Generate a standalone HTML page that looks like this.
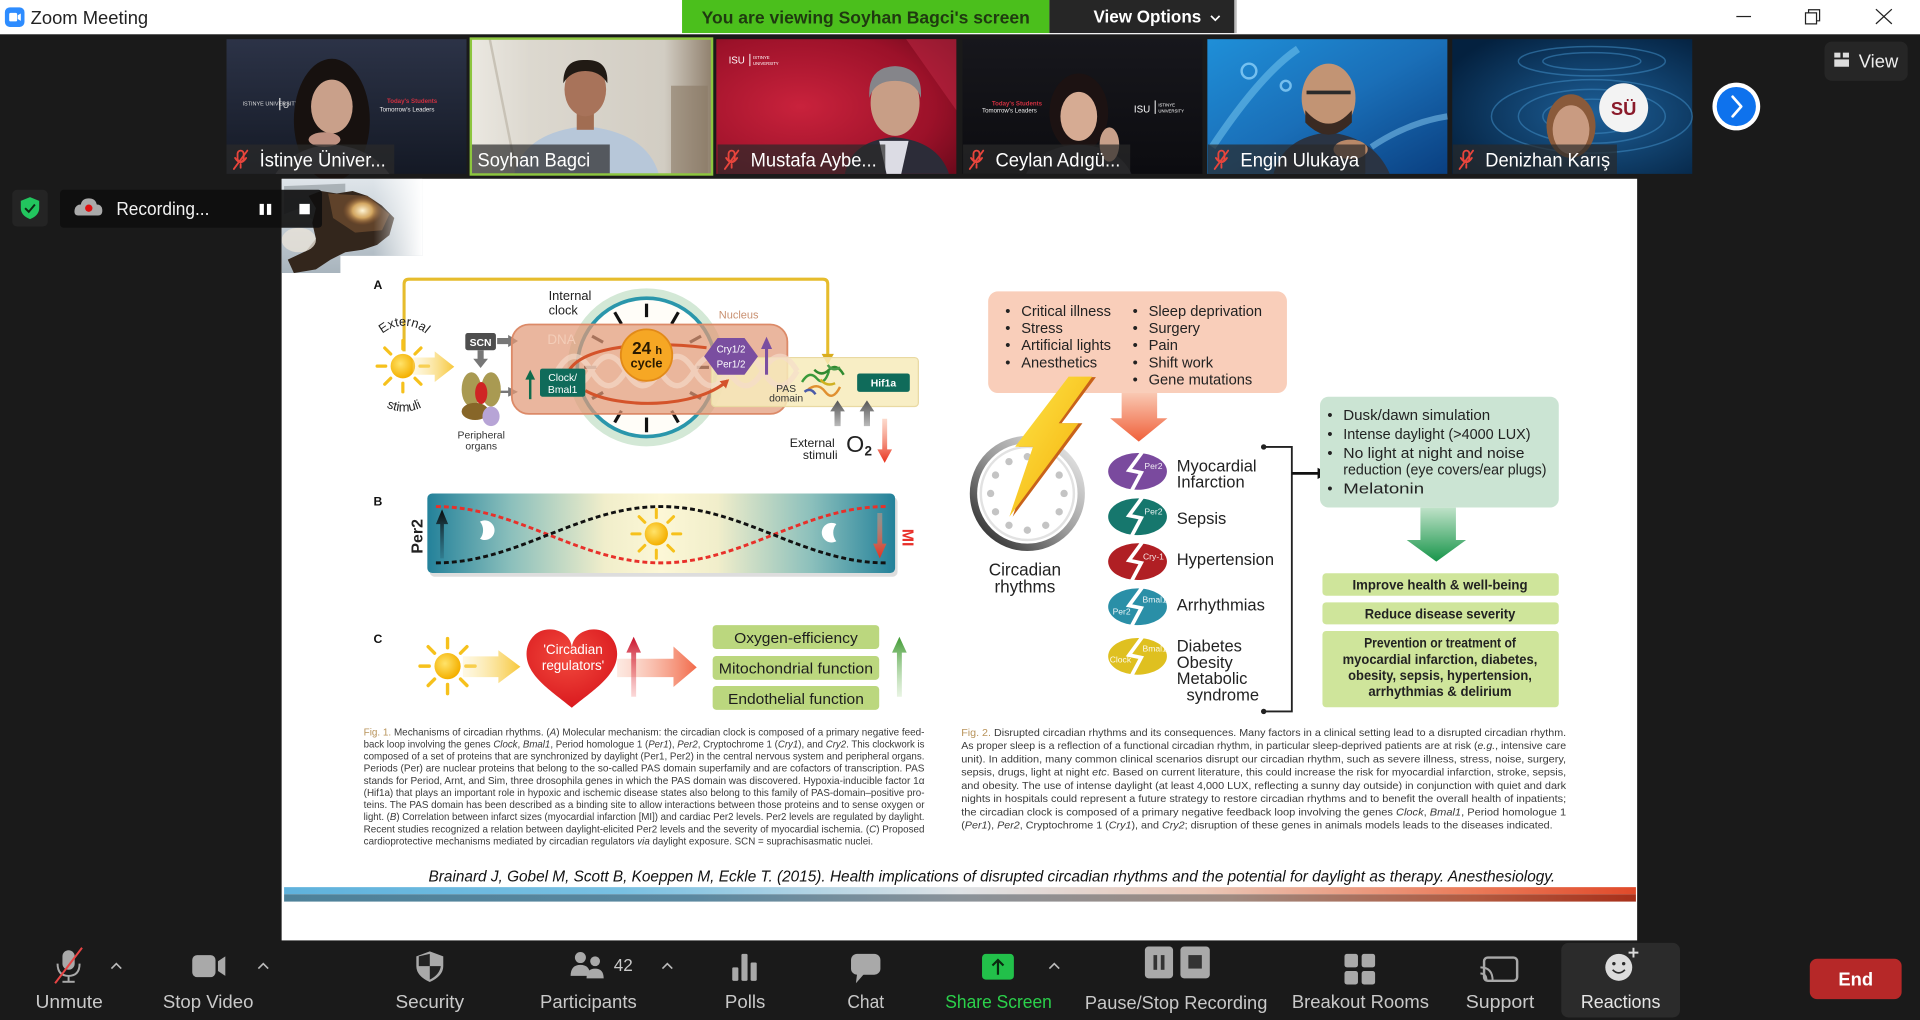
<!DOCTYPE html>
<html><head><meta charset="utf-8">
<style>
html,body{margin:0;padding:0;background:#1a1a1a;width:1920px;height:1020px;overflow:hidden}
svg{display:block}
text{font-family:"Liberation Sans","DejaVu Sans",sans-serif}
</style></head><body>
<svg width="1920" height="1020" viewBox="0 0 1568 833" xmlns="http://www.w3.org/2000/svg">
<defs>
<radialGradient id="sunG" cx="0.4" cy="0.4" r="0.6"><stop offset="0" stop-color="#ffe36a"/><stop offset="1" stop-color="#f4b000"/></radialGradient>
<g id="sun"><circle r="10" fill="url(#sunG)"/><g stroke="#f6c11c" stroke-width="2.6" stroke-linecap="round"><line x1="14" y1="0" x2="21" y2="0"/><line x1="-14" y1="0" x2="-21" y2="0"/><line x1="0" y1="14" x2="0" y2="21"/><line x1="0" y1="-14" x2="0" y2="-21"/><line x1="9.9" y1="9.9" x2="14.8" y2="14.8"/><line x1="-9.9" y1="9.9" x2="-14.8" y2="14.8"/><line x1="9.9" y1="-9.9" x2="14.8" y2="-14.8"/><line x1="-9.9" y1="-9.9" x2="-14.8" y2="-14.8"/></g></g>
<linearGradient id="t1" x1="0" y1="0" x2="0" y2="1"><stop offset="0" stop-color="#2c3347"/><stop offset="1" stop-color="#141925"/></linearGradient>
<linearGradient id="t2" x1="0" y1="0" x2="1" y2="0"><stop offset="0" stop-color="#ebe8e1"/><stop offset="0.25" stop-color="#dcd8cf"/><stop offset="0.8" stop-color="#d2cdc3"/><stop offset="1" stop-color="#8f7f6c"/></linearGradient>
<radialGradient id="t3" cx="0.35" cy="0.5" r="0.8"><stop offset="0" stop-color="#c9223c"/><stop offset="0.7" stop-color="#9b1129"/><stop offset="1" stop-color="#6e0a1c"/></radialGradient>
<linearGradient id="t4" x1="0" y1="0" x2="0" y2="1"><stop offset="0" stop-color="#17171c"/><stop offset="1" stop-color="#0c0c10"/></linearGradient>
<linearGradient id="t5" x1="0" y1="0" x2="1" y2="1"><stop offset="0" stop-color="#1f8fd8"/><stop offset="0.5" stop-color="#1a6fb8"/><stop offset="1" stop-color="#0a3f80"/></linearGradient>
<radialGradient id="t6" cx="0.6" cy="0.55" r="0.7"><stop offset="0" stop-color="#1d5f98"/><stop offset="1" stop-color="#04213f"/></radialGradient>
<linearGradient id="sky" x1="0" y1="0" x2="0" y2="1"><stop offset="0" stop-color="#dfe5ea"/><stop offset="1" stop-color="#a8b4bd"/></linearGradient>
<linearGradient id="fadeR" x1="0" y1="0" x2="1" y2="0"><stop offset="0" stop-color="#fff" stop-opacity="0"/><stop offset="1" stop-color="#fff" stop-opacity="1"/></linearGradient>
<radialGradient id="glow" cx="0.5" cy="0.5" r="0.5"><stop offset="0" stop-color="#fff6d8"/><stop offset="0.5" stop-color="#f0c070" stop-opacity="0.8"/><stop offset="1" stop-color="#a06030" stop-opacity="0"/></radialGradient>
<linearGradient id="yArr" x1="0" y1="0" x2="1" y2="0"><stop offset="0" stop-color="#fbe9a8" stop-opacity="0.3"/><stop offset="1" stop-color="#f7c73a"/></linearGradient>
<linearGradient id="sArr" x1="0" y1="0" x2="1" y2="0"><stop offset="0" stop-color="#f8b8a0" stop-opacity="0.3"/><stop offset="1" stop-color="#f26a4a"/></linearGradient>
<linearGradient id="grayUp" x1="0" y1="1" x2="0" y2="0"><stop offset="0" stop-color="#bbb"/><stop offset="1" stop-color="#555"/></linearGradient>
<linearGradient id="redDown" x1="0" y1="0" x2="0" y2="1"><stop offset="0" stop-color="#f8a080" stop-opacity="0.4"/><stop offset="1" stop-color="#e8301c"/></linearGradient>
<linearGradient id="blackUp" x1="0" y1="1" x2="0" y2="0"><stop offset="0" stop-color="#1a3a4a" stop-opacity="0.2"/><stop offset="1" stop-color="#0a0a0a"/></linearGradient>
<linearGradient id="redUp" x1="0" y1="1" x2="0" y2="0"><stop offset="0" stop-color="#f08080" stop-opacity="0.3"/><stop offset="1" stop-color="#c8102a"/></linearGradient>
<linearGradient id="greenUp" x1="0" y1="1" x2="0" y2="0"><stop offset="0" stop-color="#b0d8a0" stop-opacity="0.3"/><stop offset="1" stop-color="#3f9a32"/></linearGradient>
<linearGradient id="bGrad" x1="0" y1="0" x2="1" y2="0"><stop offset="0" stop-color="#23819a"/><stop offset="0.18" stop-color="#8cc0bc"/><stop offset="0.38" stop-color="#f1eecb"/><stop offset="0.5" stop-color="#fcf7d6"/><stop offset="0.62" stop-color="#f1eecb"/><stop offset="0.82" stop-color="#8cc0bc"/><stop offset="1" stop-color="#23819a"/></linearGradient>
<radialGradient id="heartG" cx="0.45" cy="0.35" r="0.7"><stop offset="0" stop-color="#f24a3e"/><stop offset="1" stop-color="#d8161c"/></radialGradient>
<linearGradient id="boltG" x1="0" y1="0" x2="1" y2="1"><stop offset="0" stop-color="#fde74a"/><stop offset="0.6" stop-color="#f8c320"/><stop offset="1" stop-color="#f29a1a"/></linearGradient>
<linearGradient id="ringG" x1="1" y1="0" x2="0" y2="1"><stop offset="0" stop-color="#f2f2f2"/><stop offset="0.5" stop-color="#9a9a9a"/><stop offset="1" stop-color="#1e1e1e"/></linearGradient>
<linearGradient id="salDown" x1="0" y1="0" x2="0" y2="1"><stop offset="0" stop-color="#f9c8b2"/><stop offset="1" stop-color="#f0603a"/></linearGradient>
<linearGradient id="grnDown" x1="0" y1="0" x2="0" y2="1"><stop offset="0" stop-color="#bfe2c8"/><stop offset="1" stop-color="#17954a"/></linearGradient>
<linearGradient id="barTop" x1="0" y1="0" x2="1" y2="0"><stop offset="0" stop-color="#5fb2dc"/><stop offset="0.25" stop-color="#78c0e2"/><stop offset="0.5" stop-color="#dfe3e6"/><stop offset="0.68" stop-color="#eac6b6"/><stop offset="0.88" stop-color="#ea7a58"/><stop offset="1" stop-color="#e04a2a"/></linearGradient>
<linearGradient id="barBot" x1="0" y1="0" x2="1" y2="0"><stop offset="0" stop-color="#4d8199"/><stop offset="0.3" stop-color="#5a88a0"/><stop offset="0.5" stop-color="#8a9299"/><stop offset="0.7" stop-color="#a08a80"/><stop offset="0.88" stop-color="#b25a40"/><stop offset="1" stop-color="#a8301a"/></linearGradient>
<clipPath id="imgClip"><path d="M230,146 H345 V209 H278 V223 H230 Z"/></clipPath>
<marker id="arrOr" markerWidth="8" markerHeight="8" refX="5" refY="4" orient="auto" markerUnits="userSpaceOnUse"><path d="M0,0 L7,4 L0,8 Z" fill="#d4532a"/></marker>
</defs>

<!-- background -->
<rect x="0" y="0" width="1568" height="833" fill="#1a1a1a"/>
<!-- title bar -->
<rect x="0" y="0" width="1568" height="28" fill="#ffffff"/>
<rect x="4" y="6" width="16" height="16" rx="4" fill="#2d8cff"/>
<rect x="7.5" y="10.5" width="6.5" height="7" rx="1.2" fill="#fff"/>
<path d="M14.5,12.5 L17,11 V17 L14.5,15.5 Z" fill="#fff"/>
<text x="25" y="19.5" font-size="15" fill="#222" textLength="96" lengthAdjust="spacingAndGlyphs">Zoom Meeting</text>
<rect x="557" y="0" width="300" height="27" fill="#4bbf1c"/>
<text x="573" y="19" font-size="14.5" font-weight="bold" fill="#1f3a10" textLength="268" lengthAdjust="spacingAndGlyphs">You are viewing Soyhan Bagci's screen</text>
<rect x="857" y="0" width="151" height="27" fill="#262626"/>
<rect x="1008" y="0" width="2" height="27" fill="#555" opacity="0.4"/>
<text x="893" y="18.5" font-size="14.5" font-weight="bold" fill="#fff" textLength="88" lengthAdjust="spacingAndGlyphs">View Options</text>
<path d="M989,13 L992.5,16.5 L996,13" stroke="#fff" stroke-width="1.4" fill="none"/>
<line x1="1418" y1="13.5" x2="1430" y2="13.5" stroke="#222" stroke-width="1"/>
<rect x="1474.5" y="10.5" width="9" height="9" fill="none" stroke="#222" stroke-width="1"/>
<path d="M1477,10.5 V8 H1486 V17 H1483.5" fill="none" stroke="#222" stroke-width="1"/>
<path d="M1532,7.5 L1545,19.5 M1545,7.5 L1532,19.5" stroke="#222" stroke-width="1"/>

<!-- thumbnails -->
<g>
<rect x="185" y="32" width="196" height="110" fill="url(#t1)"/>
<text x="198" y="86" font-size="4.5" fill="#ddd">ISTINYE UNIVERSITY</text>
<rect x="228" y="80" width="1" height="10" fill="#ddd"/>
<text x="231" y="88" font-size="7" fill="#ddd">U</text>
<text x="316" y="84" font-size="5" fill="#d03040" font-weight="bold">Today's Students</text>
<text x="310" y="91" font-size="5" fill="#eee">Tomorrow's Leaders</text>
<ellipse cx="271" cy="98" rx="31" ry="50" fill="#17110f"/>
<path d="M225,142 Q240,120 271,118 Q302,120 318,142 Z" fill="#4a4a52"/>
<ellipse cx="271" cy="87" rx="17" ry="22" fill="#c9a08a"/>
<ellipse cx="265" cy="114" rx="13" ry="6" fill="#c09282"/>
<rect x="185" y="118" width="137" height="24" fill="#2a2a2a" opacity="0.75"/>
</g>
<g>
<rect x="384" y="32" width="198" height="110" fill="url(#t2)"/>
<line x1="400" y1="32" x2="422" y2="142" stroke="#c8c2b6" stroke-width="2"/>
<rect x="548" y="70" width="30" height="72" fill="#8a7a66" opacity="0.6"/>
<path d="M420,142 Q428,108 478,103 Q528,108 538,142 Z" fill="#b7c7d9"/>
<rect x="471" y="88" width="14" height="18" fill="#a16d52"/>
<ellipse cx="478" cy="73" rx="17" ry="22" fill="#a8735a"/>
<path d="M460,68 Q460,48 478,49 Q497,48 496,68 Q490,58 478,58 Q466,58 460,68 Z" fill="#211a14"/>
<rect x="385" y="118" width="113" height="24" fill="#2a2a2a" opacity="0.7"/>
<rect x="384.5" y="31.5" width="197" height="111" fill="none" stroke="#8dc63f" stroke-width="2"/>
</g>
<g>
<rect x="585" y="32" width="196" height="110" fill="url(#t3)"/>
<path d="M740,32 L781,32 L781,90 Z" fill="#c02a45" opacity="0.5"/>
<text x="595" y="52" font-size="8" fill="#fff" font-family="Liberation Serif,serif">ISU</text>
<rect x="612" y="44" width="0.8" height="10" fill="#fff"/>
<text x="615" y="48" font-size="3.5" fill="#fff">ISTINYE</text>
<text x="615" y="53" font-size="3.5" fill="#fff">UNIVERSITY</text>
<path d="M690,142 Q695,115 730,112 Q766,115 775,142 Z" fill="#2c2c38"/>
<path d="M718,115 L742,115 L736,142 L724,142 Z" fill="#dcdce4"/>
<ellipse cx="731" cy="84" rx="20" ry="27" fill="#c89e86"/>
<path d="M710,80 Q708,55 731,54 Q754,55 752,80 Q748,66 731,66 Q714,66 710,80 Z" fill="#85858a"/>
<rect x="586" y="118" width="137" height="24" fill="#2a2a2a" opacity="0.7"/>
</g>
<g>
<rect x="786" y="32" width="196" height="110" fill="url(#t4)"/>
<text x="810" y="86" font-size="5" fill="#d03040" font-weight="bold">Today's Students</text>
<text x="802" y="92" font-size="5" fill="#eee">Tomorrow's Leaders</text>
<text x="926" y="92" font-size="8" fill="#fff" font-family="Liberation Serif,serif">ISU</text>
<rect x="943" y="82" width="0.8" height="11" fill="#fff"/>
<text x="946" y="87" font-size="3.5" fill="#fff">ISTINYE</text>
<text x="946" y="92" font-size="3.5" fill="#fff">UNIVERSITY</text>
<ellipse cx="881" cy="92" rx="24" ry="32" fill="#1c1212"/>
<path d="M838,142 Q848,120 881,118 Q914,120 924,142 Z" fill="#23232a"/>
<ellipse cx="881" cy="95" rx="15" ry="20" fill="#d6ab93"/>
<ellipse cx="906" cy="118" rx="8" ry="14" fill="#c8a08a"/>
<rect x="786.5" y="118" width="136.5" height="24" fill="#2a2a2a" opacity="0.7"/>
</g>
<g>
<rect x="986" y="32" width="196" height="110" fill="url(#t5)"/>
<path d="M990,120 Q1030,60 1060,40" stroke="#7ccbf2" stroke-width="6" fill="none" opacity="0.5"/>
<circle cx="1020" cy="58" r="6" fill="none" stroke="#9bdcff" stroke-width="2" opacity="0.7"/>
<circle cx="1050" cy="70" r="4" fill="none" stroke="#9bdcff" stroke-width="2" opacity="0.7"/>
<path d="M1120,120 Q1150,100 1182,95" stroke="#8bd0f5" stroke-width="5" fill="none" opacity="0.5"/>
<path d="M1040,142 Q1048,112 1085,108 Q1122,112 1135,142 Z" fill="#2a3444"/>
<ellipse cx="1085" cy="80" rx="22" ry="28" fill="#c29474"/>
<path d="M1066,90 Q1085,112 1104,90 L1104,100 Q1085,120 1066,100 Z" fill="#3a2a22"/>
<rect x="1067" y="74" width="36" height="3" fill="#2a2a2a"/>
<ellipse cx="1103" cy="122" rx="14" ry="8" fill="#b88868"/>
<rect x="986.5" y="118" width="128.5" height="24" fill="#2a2a2a" opacity="0.7"/>
</g>
<g>
<rect x="1186" y="32" width="196" height="110" fill="url(#t6)"/>
<g fill="none" stroke="#3f8cc4" stroke-width="1.2" opacity="0.55">
<ellipse cx="1300" cy="95" rx="40" ry="14"/><ellipse cx="1300" cy="95" rx="60" ry="22"/><ellipse cx="1300" cy="95" rx="82" ry="30"/><ellipse cx="1300" cy="50" rx="60" ry="12"/><ellipse cx="1300" cy="50" rx="40" ry="7"/>
</g>
<circle cx="1326" cy="88" r="20" fill="#f3f3f3"/>
<text x="1326" y="94" font-size="15" fill="#8a1a2a" text-anchor="middle" font-family="Liberation Serif,serif" font-weight="bold">SÜ</text>
<ellipse cx="1283" cy="103" rx="20" ry="26" fill="#8a5a3a"/>
<ellipse cx="1283" cy="106" rx="15" ry="20" fill="#c99b81"/>
<rect x="1186.5" y="118" width="134" height="24" fill="#2a2a2a" opacity="0.7"/>
</g>
<g stroke="#e8453c" stroke-width="1.5" fill="none" stroke-linecap="round">
<g transform="translate(191,123)"><rect x="3" y="0" width="5" height="9" rx="2.5"/><path d="M1,6 Q5.5,13 10,6 M5.5,11 V14"/><line x1="0" y1="15" x2="11" y2="0"/></g>
<g transform="translate(592,123)"><rect x="3" y="0" width="5" height="9" rx="2.5"/><path d="M1,6 Q5.5,13 10,6 M5.5,11 V14"/><line x1="0" y1="15" x2="11" y2="0"/></g>
<g transform="translate(792,123)"><rect x="3" y="0" width="5" height="9" rx="2.5"/><path d="M1,6 Q5.5,13 10,6 M5.5,11 V14"/><line x1="0" y1="15" x2="11" y2="0"/></g>
<g transform="translate(992,123)"><rect x="3" y="0" width="5" height="9" rx="2.5"/><path d="M1,6 Q5.5,13 10,6 M5.5,11 V14"/><line x1="0" y1="15" x2="11" y2="0"/></g>
<g transform="translate(1192,123)"><rect x="3" y="0" width="5" height="9" rx="2.5"/><path d="M1,6 Q5.5,13 10,6 M5.5,11 V14"/><line x1="0" y1="15" x2="11" y2="0"/></g>
</g>
<g font-size="15.5" fill="#fff">
<text x="212" y="136" textLength="103" lengthAdjust="spacingAndGlyphs">İstinye Üniver...</text>
<text x="390" y="136" textLength="92" lengthAdjust="spacingAndGlyphs">Soyhan Bagci</text>
<text x="613" y="136" textLength="103" lengthAdjust="spacingAndGlyphs">Mustafa Aybe...</text>
<text x="813" y="136" textLength="102" lengthAdjust="spacingAndGlyphs">Ceylan Adıgü...</text>
<text x="1013" y="136" textLength="97" lengthAdjust="spacingAndGlyphs">Engin Ulukaya</text>
<text x="1213" y="136" textLength="102" lengthAdjust="spacingAndGlyphs">Denizhan Karış</text>
</g>
<circle cx="1418" cy="87" r="19.5" fill="#fff"/>
<circle cx="1418" cy="87" r="16" fill="#0e72ed"/>
<path d="M1415,79 L1422,87 L1415,95" stroke="#fff" stroke-width="2.2" fill="none" stroke-linecap="round" stroke-linejoin="round"/>
<rect x="1490" y="34" width="68" height="32" rx="6" fill="#262626"/>
<rect x="1498" y="43" width="5" height="4" fill="#ddd"/><rect x="1505" y="43" width="5" height="4" fill="#ddd"/>
<rect x="1498" y="48.5" width="12" height="6" fill="#ddd"/>
<text x="1518" y="55" font-size="15" fill="#eee">View</text>

<!-- SLIDE -->
<rect x="230" y="146" width="1107" height="622" fill="#ffffff"/>
<g clip-path="url(#imgClip)">
<rect x="230" y="146" width="115" height="77" fill="url(#sky)"/>
<path d="M232,152 L282,150 L282,182 L262,186 L245,170 L232,175 Z" fill="#8a9298" opacity="0.6"/>
<path d="M252,160 L262,156 L275,158 L288,156 L300,160 L312,168 L322,178 L318,192 L308,200 L296,204 L282,206 L270,212 L258,220 L240,223 L235,212 L250,205 L258,195 L255,182 L258,170 Z" fill="#33261c"/>
<path d="M268,158 L300,160 L318,175 L312,188 L290,190 L272,178 Z" fill="#6a4a2e" opacity="0.8"/>
<ellipse cx="296" cy="172" rx="16" ry="12" fill="url(#glow)"/>
<ellipse cx="244" cy="196" rx="14" ry="10" fill="#e8e2d8" opacity="0.8"/>
<rect x="305" y="146" width="40" height="77" fill="url(#fadeR)"/>
</g>

<!-- Panel A -->
<text x="305" y="236" font-size="10" font-weight="bold" fill="#111">A</text>
<path d="M330,287 V232 Q330,228 334,228 H672 Q676,228 676,232 V292" fill="none" stroke="#e6bc2c" stroke-width="2.5"/>
<path d="M671,289 L676,298 L681,289 Z" fill="#d9ad1e"/>
<use href="#sun" transform="translate(329,299)"/>
<path id="arcExt" d="M303,293 A27,27 0 0 1 357,293" fill="none"/>
<text font-size="10.5" fill="#222"><textPath href="#arcExt" startOffset="50%" text-anchor="middle">External</textPath></text>
<path id="arcStim" d="M297,303 A33,33 0 0 0 363,303" fill="none"/>
<text font-size="10.5" fill="#222"><textPath href="#arcStim" startOffset="50%" text-anchor="middle">stimuli</textPath></text>
<path d="M337,292 H355 V287 L371,299.5 L355,312 V306 H337 Z" fill="url(#yArr)"/>
<rect x="380" y="272" width="25" height="14" rx="2" fill="#4e4e4e"/>
<text x="392.5" y="282.5" font-size="8.5" font-weight="bold" fill="#fff" text-anchor="middle">SCN</text>
<path d="M406,276 H415 V273.5 L423,278.5 L415,283.5 V281 H406 Z" fill="#777"/>
<path d="M390,286 H395 V293 H398.5 L392.5,300.5 L386.5,293 H390 Z" fill="#777"/>
<path d="M408,319 H415 V316 L423,320 L415,324 V321 H408 Z" fill="#777"/>
<ellipse cx="385" cy="318" rx="8" ry="14" fill="#a99a52"/>
<ellipse cx="401" cy="318" rx="8" ry="14" fill="#a99a52"/>
<ellipse cx="393" cy="321" rx="5" ry="9" fill="#cf2424"/>
<ellipse cx="388" cy="336" rx="11" ry="7" fill="#876628"/>
<ellipse cx="401" cy="340" rx="7" ry="8" fill="#b7a4d6"/>
<text x="393" y="358" font-size="8.5" fill="#333" text-anchor="middle">Peripheral</text>
<text x="393" y="367" font-size="8.5" fill="#333" text-anchor="middle">organs</text>
<circle cx="528" cy="300" r="61" fill="#fffdf8" stroke="#d3e8d6" stroke-width="7"/>
<circle cx="528" cy="300" r="56.5" fill="none" stroke="#2a96ab" stroke-width="3"/>
<g stroke="#111" stroke-width="2.6">
<line x1="528" y1="259" x2="528" y2="248"/><line x1="548.5" y1="264.5" x2="554" y2="255"/><line x1="563.5" y1="279.5" x2="572.5" y2="274.5"/>
<line x1="569" y1="300" x2="579" y2="300"/><line x1="563.5" y1="320.5" x2="572.5" y2="325.5"/><line x1="548.5" y1="335.5" x2="554" y2="345"/>
<line x1="528" y1="341" x2="528" y2="353"/><line x1="507.5" y1="335.5" x2="502" y2="345"/><line x1="492.5" y1="320.5" x2="483.5" y2="325.5"/>
<line x1="487" y1="300" x2="477" y2="300"/><line x1="492.5" y1="279.5" x2="483.5" y2="274.5"/><line x1="507.5" y1="264.5" x2="502" y2="255"/>
</g>
<rect x="418" y="265" width="225" height="73" rx="14" fill="#e29a78" fill-opacity="0.72" stroke="#dc8a68" stroke-width="1.5"/>
<rect x="581" y="292" width="169" height="40" rx="3" fill="#f7ebbb" fill-opacity="0.85" stroke="#e9d9a2" stroke-width="1"/>
<g fill="none" stroke="#f6dccb" stroke-width="4.5" opacity="0.65">
<path d="M455,303 q14,-24 28,0 t28,0 t28,0 t28,0 t28,0 t28,0 t28,0"/>
<path d="M455,303 q14,24 28,0 t28,0 t28,0 t28,0 t28,0 t28,0 t28,0"/>
</g>
<text x="447" y="281" font-size="11" fill="#f3cdb8">DNA</text>
<text x="587" y="260" font-size="9" fill="#c99070">Nucleus</text>
<text x="448" y="245" font-size="10.5" fill="#222">Internal</text>
<text x="448" y="257" font-size="10.5" fill="#222">clock</text>
<path d="M463,307 C468,285 520,277 577,284" fill="none" stroke="#d4532a" stroke-width="2.5"/>
<line x1="459" y1="309" x2="468" y2="309" stroke="#d4532a" stroke-width="2.5"/>
<path d="M478,319 C505,334 568,334 594,311" fill="none" stroke="#d4532a" stroke-width="2.5" marker-end="url(#arrOr)"/>
<circle cx="528" cy="290" r="21" fill="#f6a724" stroke="#e28a18" stroke-width="1.5"/>
<text x="524" y="289" font-size="14" font-weight="bold" fill="#2a1a00" text-anchor="middle">24</text>
<text x="538" y="289" font-size="9" font-weight="bold" fill="#2a1a00" text-anchor="middle">h</text>
<text x="528" y="300" font-size="10.5" font-weight="bold" fill="#2a1a00" text-anchor="middle">cycle</text>
<path d="M433,326 V308" stroke="#0f6b4c" stroke-width="2"/>
<path d="M429,310 L433,302 L437,310 Z" fill="#0f6b4c"/>
<rect x="441" y="301" width="37" height="23" rx="2" fill="#0f6b5a"/>
<text x="459.5" y="311" font-size="8.5" fill="#fff" text-anchor="middle">Clock/</text>
<text x="459.5" y="321" font-size="8.5" fill="#fff" text-anchor="middle">Bmal1</text>
<path d="M575,291 L586,276 L608,276 L619,291 L608,306 L586,306 Z" fill="#7a4ea0"/>
<text x="597" y="288" font-size="8" fill="#fff" text-anchor="middle">Cry1/2</text>
<text x="597" y="300" font-size="8" fill="#fff" text-anchor="middle">Per1/2</text>
<path d="M626,306 V283" stroke="#7a4ea0" stroke-width="2.5"/>
<path d="M621.5,285 L626,275 L630.5,285 Z" fill="#7a4ea0"/>
<g stroke-width="2" fill="none">
<path d="M655,312 q6,-10 12,-3 t10,-6" stroke="#3a9a3a"/>
<path d="M660,318 q8,-6 14,2 t12,-4" stroke="#e09030"/>
<path d="M665,302 q6,6 12,0 t12,4" stroke="#2f8a2f"/>
<path d="M657,320 q5,-4 9,2" stroke="#4a5aa8"/>
<path d="M670,310 q5,6 12,3" stroke="#d0b020"/>
<path d="M676,298 q4,6 10,2" stroke="#4a9a4a"/>
</g>
<text x="642" y="320" font-size="8.5" fill="#333" text-anchor="middle">PAS</text>
<text x="642" y="328" font-size="8.5" fill="#333" text-anchor="middle">domain</text>
<rect x="700" y="305" width="43" height="15" rx="2" fill="#0f6b5a"/>
<text x="721.5" y="315.5" font-size="8.5" font-weight="bold" fill="#fff" text-anchor="middle">Hif1a</text>
<path d="M681.5,348 V336 H678 L684,327 L690,336 H686.5 V348 Z" fill="url(#grayUp)"/>
<path d="M705.5,348 V336 H702 L708,327 L714,336 H710.5 V348 Z" fill="url(#grayUp)"/>
<text x="645" y="365" font-size="10" fill="#222">External</text>
<text x="684" y="375" font-size="10" fill="#222" text-anchor="end">stimuli</text>
<text x="691" y="369" font-size="19" fill="#222">O</text>
<text x="706" y="372" font-size="11" font-weight="bold" fill="#222">2</text>
<path d="M720.5,342 H724.5 V367 H728.5 L722.5,378 L716.5,367 H720.5 Z" fill="url(#redDown)"/>

<!-- Panel B -->
<text x="305" y="413" font-size="10" font-weight="bold" fill="#111">B</text>
<rect x="351" y="406" width="382" height="65" rx="4" fill="#bbb" opacity="0.5"/>
<rect x="349" y="403" width="382" height="65" rx="4" fill="url(#bGrad)"/>
<path d="M356,413.7 C422.9,413.7 472.8,459.7 539.7,459.7 C606.6,459.7 656.5,413.7 723.5,413.7" fill="none" stroke="#e8302a" stroke-width="2.4" stroke-dasharray="4 2.5"/>
<path d="M356,459.7 C422.9,459.7 472.8,413.7 539.7,413.7 C606.6,413.7 656.5,459.7 723.5,459.7" fill="none" stroke="#111" stroke-width="2.4" stroke-dasharray="4 2.5"/>
<use href="#sun" transform="translate(536,436) scale(0.95)"/>
<path d="M392,426 A8,8 0 1 1 392,440 A11,11 0 0 0 392,426 Z" fill="#fff"/>
<path d="M683,428 A8,8 0 1 0 683,442 A11,11 0 0 1 683,428 Z" fill="#fff"/>
<path d="M359.5,456 V428 H356 L361,416 L366,428 H362.5 V456 Z" fill="url(#blackUp)"/>
<path d="M716.5,419 H720.5 V444 H724 L718.5,456 L713,444 H716.5 Z" fill="url(#redDown)"/>
<text transform="translate(345,438) rotate(-90)" font-size="13" font-weight="bold" fill="#222" text-anchor="middle">Per2</text>
<text transform="translate(737,439) rotate(90)" font-size="13" font-weight="bold" fill="#e8302a" text-anchor="middle">MI</text>

<!-- Panel C -->
<text x="305" y="525" font-size="10" font-weight="bold" fill="#111">C</text>
<use href="#sun" transform="translate(365.5,544) scale(1.07)"/>
<path d="M378,536 H407 V531 L425,544.5 L407,558 V553 H378 Z" fill="url(#yArr)"/>
<path d="M467,530 C467,520 458,514 449,514 C437,514 430,524 430,534 C430,552 450,564 467,578 C484,564 504,552 504,534 C504,524 497,514 485,514 C476,514 467,520 467,530 Z" fill="url(#heartG)"/>
<text x="468" y="534" font-size="11" fill="#fff" text-anchor="middle">'Circadian</text>
<text x="468" y="547" font-size="11" fill="#fff" text-anchor="middle">regulators'</text>
<path d="M504,538 H550 V528 L569,545 L550,561 V553 H504 Z" fill="url(#sArr)"/>
<path d="M515.5,569 V533 H511.5 L517.5,520 L523.5,533 H519.5 V569 Z" fill="url(#redUp)"/>
<g fill="#bbd77e">
<rect x="582" y="510.5" width="136" height="19.5" rx="3"/>
<rect x="582" y="535.7" width="136" height="19.5" rx="3"/>
<rect x="582" y="560.2" width="136" height="19.5" rx="3"/>
</g>
<g font-size="12" fill="#1e1e1e" text-anchor="middle">
<text x="650" y="525" textLength="101" lengthAdjust="spacingAndGlyphs">Oxygen-efficiency</text>
<text x="650" y="550" textLength="126" lengthAdjust="spacingAndGlyphs">Mitochondrial function</text>
<text x="650" y="575" textLength="111" lengthAdjust="spacingAndGlyphs">Endothelial function</text>
</g>
<path d="M732.5,569 V533 H728.5 L734.5,520 L740.5,533 H736.5 V569 Z" fill="url(#greenUp)"/>

<!-- Fig 1 caption -->
<g font-size="8.2" fill="#3a3a3a">
<text x="297" y="600.5" textLength="458" lengthAdjust="spacingAndGlyphs"><tspan fill="#b8935a">Fig. 1.</tspan> Mechanisms of circadian rhythms. (<tspan font-style="italic">A</tspan>) Molecular mechanism: the circadian clock is composed of a primary negative feed-</text>
<text x="297" y="610.4" textLength="458" lengthAdjust="spacingAndGlyphs">back loop involving the genes <tspan font-style="italic">Clock</tspan>, <tspan font-style="italic">Bmal1</tspan>, Period homologue 1 (<tspan font-style="italic">Per1</tspan>), <tspan font-style="italic">Per2</tspan>, Cryptochrome 1 (<tspan font-style="italic">Cry1</tspan>), and <tspan font-style="italic">Cry2</tspan>. This clockwork is</text>
<text x="297" y="620.3" textLength="458" lengthAdjust="spacingAndGlyphs">composed of a set of proteins that are synchronized by daylight (Per1, Per2) in the central nervous system and peripheral organs.</text>
<text x="297" y="630.2" textLength="458" lengthAdjust="spacingAndGlyphs">Periods (Per) are nuclear proteins that belong to the so-called PAS domain superfamily and are cofactors of transcription. PAS</text>
<text x="297" y="640.1" textLength="458" lengthAdjust="spacingAndGlyphs">stands for Period, Arnt, and Sim, three drosophila genes in which the PAS domain was discovered. Hypoxia-inducible factor 1α</text>
<text x="297" y="650" textLength="458" lengthAdjust="spacingAndGlyphs">(Hif1a) that plays an important role in hypoxic and ischemic disease states also belong to this family of PAS-domain–positive pro-</text>
<text x="297" y="659.9" textLength="458" lengthAdjust="spacingAndGlyphs">teins. The PAS domain has been described as a binding site to allow interactions between those proteins and to sense oxygen or</text>
<text x="297" y="669.8" textLength="458" lengthAdjust="spacingAndGlyphs">light. (<tspan font-style="italic">B</tspan>) Correlation between infarct sizes (myocardial infarction [MI]) and cardiac Per2 levels. Per2 levels are regulated by daylight.</text>
<text x="297" y="679.7" textLength="458" lengthAdjust="spacingAndGlyphs">Recent studies recognized a relation between daylight-elicited Per2 levels and the severity of myocardial ischemia. (<tspan font-style="italic">C</tspan>) Proposed</text>
<text x="297" y="689.6" textLength="416" lengthAdjust="spacingAndGlyphs">cardioprotective mechanisms mediated by circadian regulators <tspan font-style="italic">via</tspan> daylight exposure. SCN = suprachisasmatic nuclei.</text>
</g>

<!-- Right figure -->
<rect x="807" y="238" width="244" height="83" rx="8" fill="#f9ceba"/>
<g font-size="12" fill="#222">
<text x="821" y="258">•</text><text x="834" y="258">Critical illness</text>
<text x="821" y="272">•</text><text x="834" y="272">Stress</text>
<text x="821" y="286">•</text><text x="834" y="286">Artificial lights</text>
<text x="821" y="300">•</text><text x="834" y="300">Anesthetics</text>
<text x="925" y="258">•</text><text x="938" y="258">Sleep deprivation</text>
<text x="925" y="272">•</text><text x="938" y="272">Surgery</text>
<text x="925" y="286">•</text><text x="938" y="286">Pain</text>
<text x="925" y="300">•</text><text x="938" y="300">Shift work</text>
<text x="925" y="314">•</text><text x="938" y="314">Gene mutations</text>
</g>
<circle cx="839" cy="403" r="44" fill="none" stroke="url(#ringG)" stroke-width="6"/>
<circle cx="839" cy="403" r="38" fill="none" stroke="#e2e2e2" stroke-width="2"/>
<g fill="#c4c4c4">
<circle cx="839" cy="373" r="3"/><circle cx="854" cy="377" r="3"/><circle cx="865" cy="388" r="3"/><circle cx="869" cy="403" r="3"/><circle cx="865" cy="418" r="3"/><circle cx="854" cy="429" r="3"/><circle cx="839" cy="433" r="3"/><circle cx="824" cy="429" r="3"/><circle cx="813" cy="418" r="3"/><circle cx="809" cy="403" r="3"/><circle cx="813" cy="388" r="3"/><circle cx="824" cy="377" r="3"/>
</g>
<path d="M876,308 L895,308 L867,345.7 L884,345.7 L827,422 L846,364.8 L832,364.8 Z" fill="#c8621a"/>
<path d="M872.7,307.6 L892,307.6 L864.6,345.7 L880.8,345.7 L824.3,422 L843.6,364.8 L829,364.8 Z" fill="url(#boltG)"/>
<text x="837" y="470" font-size="14" fill="#222" text-anchor="middle">Circadian</text>
<text x="837" y="484" font-size="14" fill="#222" text-anchor="middle">rhythms</text>
<path d="M916,321 H945 V341.6 H953.4 L930,360.7 L906.6,341.6 H916 Z" fill="url(#salDown)"/>
<g>
<ellipse cx="929" cy="385" rx="24" ry="15" fill="#7a4a9e"/>
<ellipse cx="929" cy="422" rx="24" ry="15" fill="#16776d"/>
<ellipse cx="929" cy="458.7" rx="24" ry="15" fill="#b01f24"/>
<ellipse cx="929" cy="495.5" rx="24" ry="15" fill="#2a8fa7"/>
<ellipse cx="929" cy="536" rx="24" ry="15" fill="#dfc020"/>
</g>
<g stroke="#fff" stroke-width="3" fill="none">
<polyline points="933,369 922,384 932,386 924,401"/>
<polyline points="933,406 922,421 932,423 924,438"/>
<polyline points="933,442.7 922,457.7 932,459.7 924,474.7"/>
<polyline points="933,479.5 922,494.5 932,496.5 924,511.5"/>
<polyline points="933,520 922,535 932,537 924,552"/>
</g>
<g font-size="7" fill="#fff" text-anchor="middle" opacity="0.9">
<text x="942" y="383">Per2</text>
<text x="942" y="420">Per2</text>
<text x="942" y="457">Cry-1</text>
<text x="943" y="492">Bmal1</text><text x="916" y="502">Per2</text>
<text x="943" y="532">Bmal1</text><text x="915" y="541">Clock</text>
</g>
<g font-size="13.5" fill="#222">
<text x="961" y="385">Myocardial</text>
<text x="961" y="398">Infarction</text>
<text x="961" y="428">Sepsis</text>
<text x="961" y="461.5">Hypertension</text>
<text x="961" y="498.5">Arrhythmias</text>
<text x="961" y="532">Diabetes</text>
<text x="961" y="545.5">Obesity</text>
<text x="961" y="558.5">Metabolic</text>
<text x="969" y="572">syndrome</text>
</g>
<path d="M1032,365 H1055 V581 H1032" fill="none" stroke="#222" stroke-width="1.5"/>
<circle cx="1032" cy="365" r="2.2" fill="#222"/><circle cx="1032" cy="581" r="2.2" fill="#222"/>
<line x1="1055" y1="386.6" x2="1078" y2="386.6" stroke="#111" stroke-width="2.2"/>
<path d="M1076,382 L1085,386.6 L1076,391.2 Z" fill="#111"/>
<rect x="1078" y="324" width="195" height="90.5" rx="7" fill="#cbe4d3"/>
<g font-size="12" fill="#222">
<text x="1084" y="343">•</text><text x="1097" y="343" textLength="120" lengthAdjust="spacingAndGlyphs">Dusk/dawn simulation</text>
<text x="1084" y="358.5">•</text><text x="1097" y="358.5" textLength="153" lengthAdjust="spacingAndGlyphs">Intense daylight (&gt;4000 LUX)</text>
<text x="1084" y="374">•</text><text x="1097" y="374" textLength="148" lengthAdjust="spacingAndGlyphs">No light at night and noise</text>
<text x="1097" y="387.5" textLength="166" lengthAdjust="spacingAndGlyphs">reduction (eye covers/ear plugs)</text>
<text x="1084" y="403">•</text><text x="1097" y="403" textLength="66" lengthAdjust="spacingAndGlyphs">Melatonin</text>
</g>
<path d="M1160,414.6 H1189 V441 H1197.3 L1173,458.7 L1148.8,441 H1160 Z" fill="url(#grnDown)"/>
<g fill="#cfe59b">
<rect x="1080" y="468.2" width="193" height="18.3" rx="3"/>
<rect x="1080" y="491.9" width="193" height="18" rx="3"/>
<rect x="1080" y="515.3" width="193" height="62.3" rx="3"/>
</g>
<g font-size="11" font-weight="bold" fill="#222" text-anchor="middle">
<text x="1176" y="481.5" textLength="143" lengthAdjust="spacingAndGlyphs">Improve health &amp; well-being</text>
<text x="1176" y="505" textLength="123" lengthAdjust="spacingAndGlyphs">Reduce disease severity</text>
<text x="1176" y="528.8" textLength="124" lengthAdjust="spacingAndGlyphs">Prevention or treatment of</text>
<text x="1176" y="542.2" textLength="159" lengthAdjust="spacingAndGlyphs">myocardial infarction, diabetes,</text>
<text x="1176" y="555.3" textLength="150" lengthAdjust="spacingAndGlyphs">obesity, sepsis, hypertension,</text>
<text x="1176" y="568.3" textLength="117" lengthAdjust="spacingAndGlyphs">arrhythmias &amp; delirium</text>
</g>

<!-- Fig 2 caption -->
<g font-size="8.2" fill="#3a3a3a">
<text x="785" y="601" textLength="494" lengthAdjust="spacingAndGlyphs"><tspan fill="#b8935a">Fig. 2.</tspan> Disrupted circadian rhythms and its consequences. Many factors in a clinical setting lead to a disrupted circadian rhythm.</text>
<text x="785" y="611.8" textLength="494" lengthAdjust="spacingAndGlyphs">As proper sleep is a reflection of a functional circadian rhythm, in particular sleep-deprived patients are at risk (<tspan font-style="italic">e.g.</tspan>, intensive care</text>
<text x="785" y="622.6" textLength="494" lengthAdjust="spacingAndGlyphs">unit). In addition, many common clinical scenarios disrupt our circadian rhythm, such as severe illness, stress, noise, surgery,</text>
<text x="785" y="633.4" textLength="494" lengthAdjust="spacingAndGlyphs">sepsis, drugs, light at night <tspan font-style="italic">etc</tspan>. Based on current literature, this could increase the risk for myocardial infarction, stroke, sepsis,</text>
<text x="785" y="644.2" textLength="494" lengthAdjust="spacingAndGlyphs">and obesity. The use of intense daylight (at least 4,000 LUX, reflecting a sunny day outside) in conjunction with quiet and dark</text>
<text x="785" y="655" textLength="494" lengthAdjust="spacingAndGlyphs">nights in hospitals could represent a future strategy to restore circadian rhythms and to benefit the overall health of inpatients;</text>
<text x="785" y="665.8" textLength="494" lengthAdjust="spacingAndGlyphs">the circadian clock is composed of a primary negative feedback loop involving the genes <tspan font-style="italic">Clock</tspan>, <tspan font-style="italic">Bmal1</tspan>, Period homologue 1</text>
<text x="785" y="676.6" textLength="483" lengthAdjust="spacingAndGlyphs">(<tspan font-style="italic">Per1</tspan>), <tspan font-style="italic">Per2</tspan>, Cryptochrome 1 (<tspan font-style="italic">Cry1</tspan>), and <tspan font-style="italic">Cry2</tspan>; disruption of these genes in animals models leads to the diseases indicated.</text>
</g>

<text x="350" y="720" font-size="12.5" font-style="italic" fill="#111" textLength="920" lengthAdjust="spacingAndGlyphs">Brainard J, Gobel M, Scott B, Koeppen M, Eckle T. (2015). Health implications of disrupted circadian rhythms and the potential for daylight as therapy. Anesthesiology.</text>
<rect x="232" y="724.5" width="1104" height="5.8" fill="url(#barTop)"/>
<rect x="232" y="730.3" width="1104" height="6" fill="url(#barBot)"/>

<!-- security + recording overlay -->
<rect x="10" y="155" width="29" height="30" rx="4" fill="#242424"/>
<path d="M24.5,161 L32,164 V170 Q32,176 24.5,179 Q17,176 17,170 V164 Z" fill="#22c55e"/>
<path d="M20.5,170 L23.5,173 L28.5,167" stroke="#0c2a14" stroke-width="1.6" fill="none"/>
<rect x="49" y="155" width="214" height="31" rx="3" fill="#0e0e0e" fill-opacity="0.9"/>
<path d="M64,176 Q60,176 61,171 Q62,167 66,167 Q67,162 72.5,162 Q78,162 79,167 Q83,167 83.5,171 Q84,176 80,176 Z" fill="#aaa"/>
<circle cx="72.5" cy="170" r="3" fill="#e01010"/>
<text x="95" y="175.5" font-size="15" fill="#f2f2f2" textLength="76" lengthAdjust="spacingAndGlyphs">Recording...</text>
<rect x="212" y="166.5" width="3.5" height="9" fill="#fff"/><rect x="218" y="166.5" width="3.5" height="9" fill="#fff"/>
<rect x="244.5" y="166.5" width="8.5" height="8.5" fill="#fff"/>

<!-- bottom toolbar -->
<g fill="#a9a9a9">
<rect x="51" y="776" width="10" height="16" rx="5"/>
<path d="M47,787 Q47,797 56,797 Q65,797 65,787" fill="none" stroke="#a9a9a9" stroke-width="1.6"/>
<rect x="55.2" y="797" width="1.6" height="5"/><rect x="51" y="801" width="10" height="1.6"/>
<path d="M91,791 L95,787 L99,791" stroke="#bbb" stroke-width="1.3" fill="none"/>
<rect x="157" y="780" width="19" height="18" rx="4"/>
<path d="M178,785 L184,781 V797 L178,793 Z"/>
<path d="M211,791 L215,787 L219,791" stroke="#bbb" stroke-width="1.3" fill="none"/>
<path d="M351,777 L362,781 V789 Q362,797 351,802 Q340,797 340,789 V781 Z"/>
<path d="M351,779 V789 H342 V781 Z" fill="#222"/><path d="M351,789 H360 Q359,796 351,800 Z" fill="#222"/>
<circle cx="474" cy="782" r="4.5"/><path d="M466,797 Q466,788 474,788 Q482,788 482,797 Z"/>
<circle cx="486" cy="785" r="4"/><path d="M479,799 Q479,791 486,791 Q493,791 493,799 Z"/>
<text x="509" y="793" font-size="14" fill="#c9c9c9" text-anchor="middle">42</text>
<path d="M541,791 L545,787 L549,791" stroke="#bbb" stroke-width="1.3" fill="none"/>
<rect x="598" y="790" width="5" height="11" rx="1"/><rect x="605.5" y="779" width="5" height="22" rx="1"/><rect x="613" y="786" width="5" height="15" rx="1"/>
<rect x="695" y="779" width="24" height="17" rx="5"/><path d="M700,795 L699,803 L706,795 Z"/>
</g>
<line x1="45" y1="803" x2="67" y2="774" stroke="#e84444" stroke-width="1.6"/>
<rect x="802" y="779" width="26" height="21" rx="3" fill="#22c04a"/>
<path d="M815,796 V784 M810.5,788.5 L815,784 L819.5,788.5" stroke="#0a2a10" stroke-width="1.8" fill="none"/>
<path d="M857,791 L861,787 L865,791" stroke="#bbb" stroke-width="1.3" fill="none"/>
<g fill="#a9a9a9">
<rect x="935" y="773" width="23" height="26" rx="3"/><rect x="964" y="773" width="24" height="26" rx="3"/>
</g>
<rect x="942" y="780" width="3" height="12" fill="#333"/><rect x="948" y="780" width="3" height="12" fill="#333"/>
<rect x="970.5" y="780" width="11" height="11" fill="#333"/>
<g fill="#a9a9a9">
<rect x="1098" y="779" width="11" height="11" rx="2"/><rect x="1112" y="779" width="11" height="11" rx="2"/>
<rect x="1098" y="793" width="11" height="11" rx="2"/><rect x="1112" y="793" width="11" height="11" rx="2"/>
</g>
<rect x="1212" y="782" width="27" height="19" rx="3" fill="none" stroke="#a9a9a9" stroke-width="2"/>
<path d="M1209,790 Q1219,790 1219,801 M1209,795 Q1214,795 1214,801" stroke="#a9a9a9" stroke-width="1.6" fill="none"/>
<rect x="1275" y="770" width="97" height="61" rx="6" fill="#2b2b2b"/>
<circle cx="1322" cy="790" r="11" fill="#dcdcdc"/>
<circle cx="1318" cy="787" r="1.4" fill="#2b2b2b"/><circle cx="1326" cy="787" r="1.4" fill="#2b2b2b"/>
<path d="M1317,792 Q1322,797 1327,792" stroke="#2b2b2b" stroke-width="1.4" fill="none"/>
<path d="M1334,774 V782 M1330,778 H1338" stroke="#dcdcdc" stroke-width="1.6"/>
<rect x="1478" y="783" width="75" height="33" rx="6" fill="#b62828"/>
<text x="1515.5" y="805" font-size="15" font-weight="bold" fill="#fff" text-anchor="middle">End</text>
<g font-size="15" fill="#c9c9c9" text-anchor="middle">
<text x="56.5" y="823" textLength="55" lengthAdjust="spacingAndGlyphs">Unmute</text>
<text x="170" y="823" textLength="74" lengthAdjust="spacingAndGlyphs">Stop Video</text>
<text x="351" y="823" textLength="56" lengthAdjust="spacingAndGlyphs">Security</text>
<text x="480.5" y="823" textLength="79" lengthAdjust="spacingAndGlyphs">Participants</text>
<text x="608.5" y="823" textLength="33" lengthAdjust="spacingAndGlyphs">Polls</text>
<text x="707" y="823" textLength="30" lengthAdjust="spacingAndGlyphs">Chat</text>
<text x="815.5" y="823" fill="#2bd14b" textLength="87" lengthAdjust="spacingAndGlyphs">Share Screen</text>
<text x="960.5" y="824" textLength="149" lengthAdjust="spacingAndGlyphs">Pause/Stop Recording</text>
<text x="1111" y="823" textLength="112" lengthAdjust="spacingAndGlyphs">Breakout Rooms</text>
<text x="1225" y="823" textLength="56" lengthAdjust="spacingAndGlyphs">Support</text>
<text x="1323.5" y="823" fill="#e6e6e6" textLength="65" lengthAdjust="spacingAndGlyphs">Reactions</text>
</g>
</svg>
</body></html>
